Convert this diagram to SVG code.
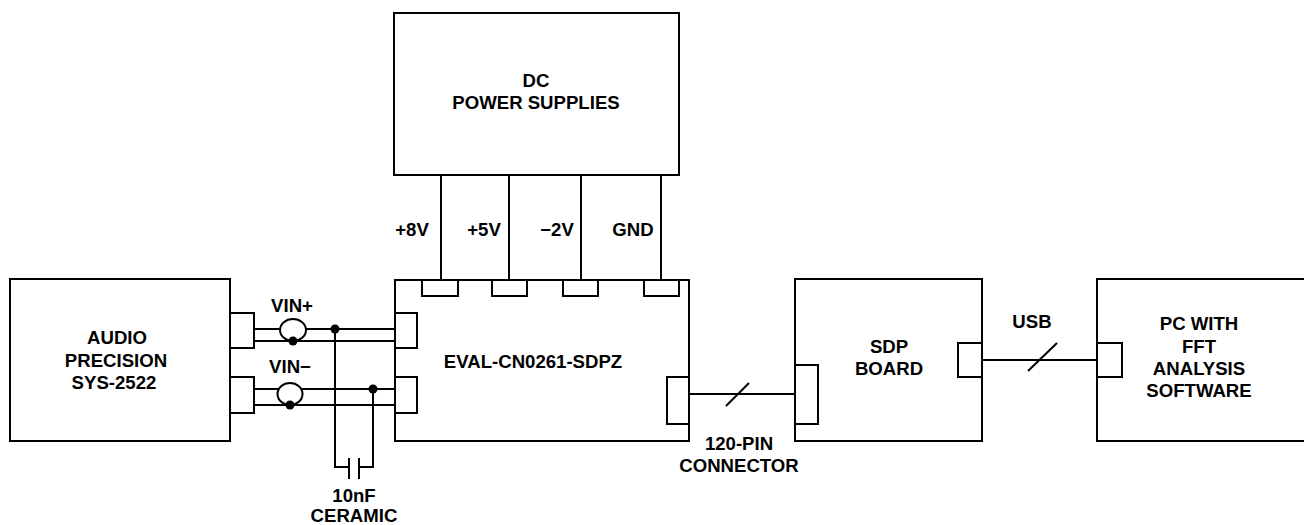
<svg xmlns="http://www.w3.org/2000/svg" width="1304" height="525" viewBox="0 0 1304 525">
<style>
.b{fill:#fff;stroke:#000;stroke-width:2}
.l{fill:none;stroke:#000;stroke-width:2}
.d{fill:#000}
text{font-family:"Liberation Sans",Arial,sans-serif;font-weight:bold;font-size:18.6px;fill:#000;text-anchor:middle}
</style>
<rect width="1304" height="525" fill="#fff"/>
<g id="connectors">
<line class="l" x1="441" y1="175" x2="441" y2="280"/>
<line class="l" x1="509" y1="175" x2="509" y2="280"/>
<line class="l" x1="581" y1="175" x2="581" y2="280"/>
<line class="l" x1="661" y1="175" x2="661" y2="280"/>
<line class="l" x1="254" y1="329" x2="395" y2="329"/>
<line class="l" x1="254" y1="341" x2="395" y2="341"/>
<line class="l" x1="254" y1="389" x2="395" y2="389"/>
<line class="l" x1="254" y1="405" x2="395" y2="405"/>
<ellipse class="b" cx="293" cy="330" rx="13" ry="11"/>
<circle class="d" cx="293" cy="341" r="4.5"/>
<ellipse class="b" cx="290" cy="394" rx="12.5" ry="11"/>
<circle class="d" cx="290" cy="405" r="4.5"/>
<circle class="d" cx="335" cy="329" r="4.5"/>
<circle class="d" cx="373" cy="389" r="4.5"/>
<polyline class="l" points="335,329 335,467 349,467"/>
<polyline class="l" points="373,389 373,467 359,467"/>
<line class="l" x1="349" y1="458" x2="349" y2="479"/>
<line class="l" x1="359" y1="458" x2="359" y2="479"/>
<line class="l" x1="689" y1="394" x2="795" y2="394"/>
<line class="l" x1="726" y1="406" x2="749" y2="383"/>
<line class="l" x1="982" y1="360" x2="1097" y2="360"/>
<line class="l" x1="1028" y1="371" x2="1057" y2="343"/>
</g>
<g id="dc-power">
<rect class="b" x="394" y="13" width="285" height="162"/>
<text x="536" y="87">DC</text>
<text x="536" y="109">POWER SUPPLIES</text>
</g>
<g id="supply-labels">
<text x="412" y="236">+8V</text>
<text x="484" y="236">+5V</text>
<text x="557" y="236">−2V</text>
<text x="633" y="236">GND</text>
</g>
<g id="audio">
<rect class="b" x="10" y="279" width="220" height="162"/>
<rect class="b" x="230" y="313" width="24" height="35"/>
<rect class="b" x="230" y="377" width="24" height="36"/>
<text x="117" y="344">AUDIO</text>
<text x="116" y="367">PRECISION</text>
<text x="114" y="389">SYS-2522</text>
</g>
<g id="vin-labels">
<text x="292" y="312">VIN+</text>
<text x="290" y="373">VIN−</text>
</g>
<g id="eval">
<rect class="b" x="395" y="280" width="294" height="161"/>
<rect class="b" x="422" y="280" width="36" height="16"/>
<rect class="b" x="492" y="280" width="35" height="16"/>
<rect class="b" x="563" y="280" width="35" height="16"/>
<rect class="b" x="644" y="280" width="35" height="16"/>
<rect class="b" x="395" y="313" width="22" height="35"/>
<rect class="b" x="395" y="377" width="22" height="36"/>
<rect class="b" x="667" y="377" width="22" height="47"/>
<text x="533" y="368">EVAL-CN0261-SDPZ</text>
</g>
<g id="capacitor-label">
<text x="354" y="502">10nF</text>
<text x="354" y="522">CERAMIC</text>
</g>
<g id="pin-label">
<text x="739" y="450">120-PIN</text>
<text x="739" y="472">CONNECTOR</text>
</g>
<g id="sdp">
<rect class="b" x="795" y="279" width="187" height="162"/>
<rect class="b" x="795" y="365" width="23" height="59"/>
<rect class="b" x="958" y="343" width="24" height="34"/>
<text x="889" y="353">SDP</text>
<text x="889" y="375">BOARD</text>
</g>
<g id="usb-label">
<text x="1032" y="328">USB</text>
</g>
<g id="pc">
<rect class="b" x="1097" y="279" width="210" height="162"/>
<rect class="b" x="1097" y="343" width="25" height="34"/>
<text x="1199" y="330">PC WITH</text>
<text x="1199" y="353">FFT</text>
<text x="1199" y="375">ANALYSIS</text>
<text x="1199" y="397">SOFTWARE</text>
</g>
</svg>
